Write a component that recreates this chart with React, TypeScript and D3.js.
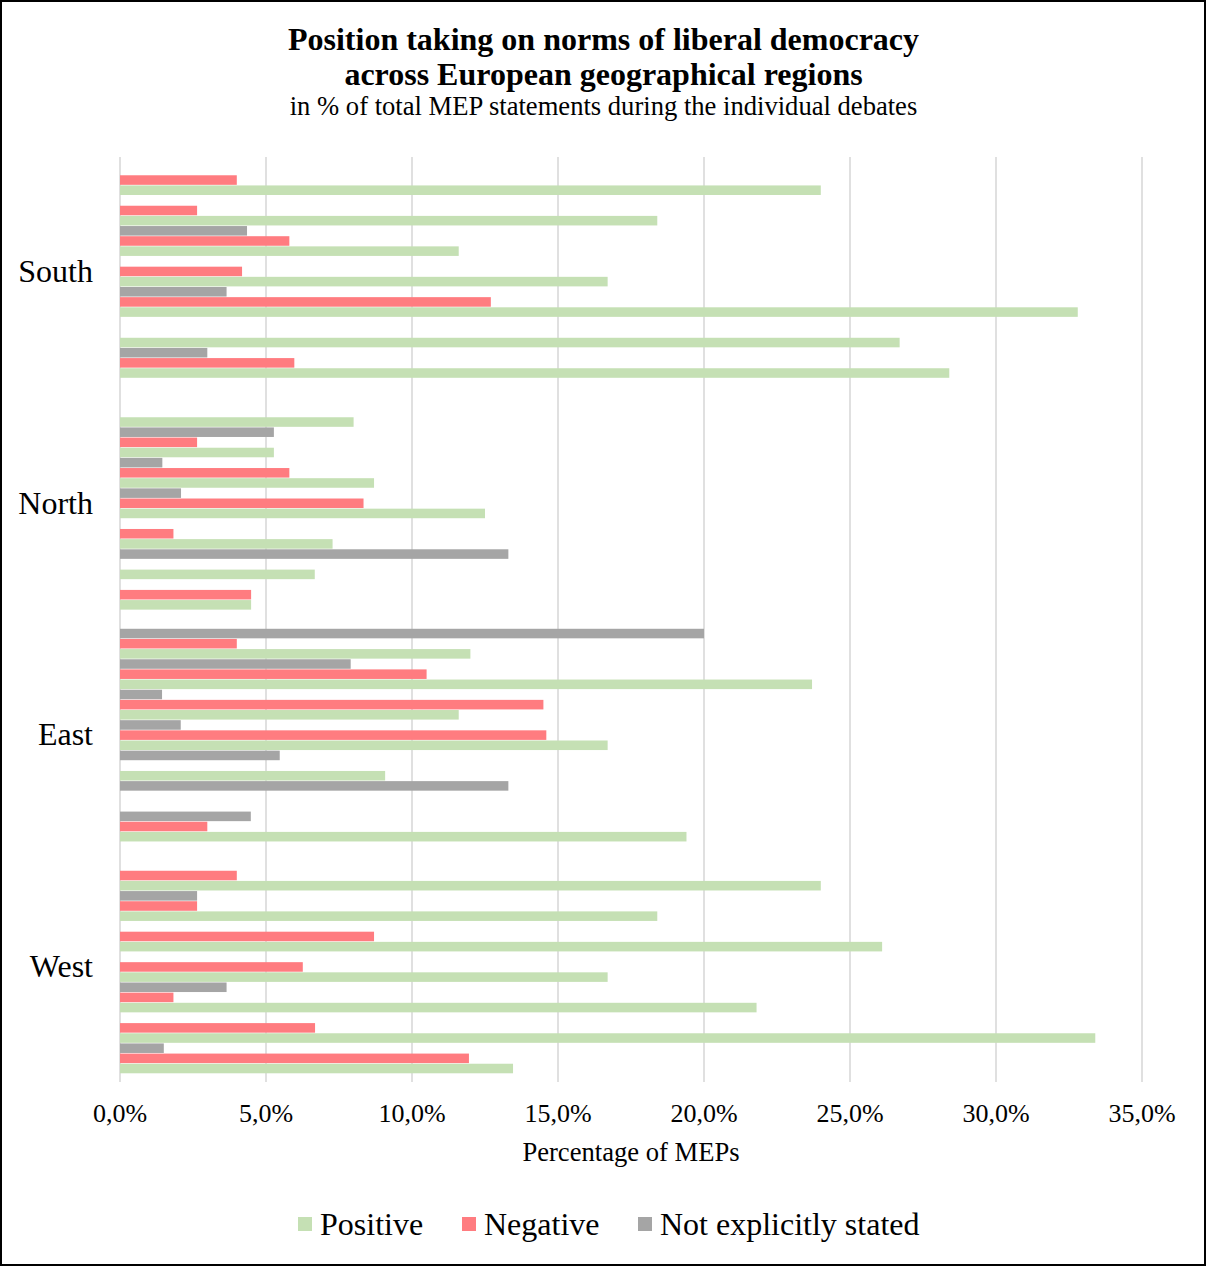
import React from "react";
import * as d3 from "d3";

// regions top to bottom, each with 7 debates
const regions = ["South", "North", "East", "West"];
const seriesNames = ["Positive", "Negative", "Not explicitly stated"];
const seriesColors = ["#C5E0B4", "#FF7C80", "#A5A5A5"];
const xTicks = [0, 5, 10, 15, 20, 25, 30, 35];

// values in % (debates 1..7, top to bottom)
const southPositive = [24.0, 18.4, 11.6, 16.7, 32.8, 26.7, 28.4];
const southNegative = [4.0, 2.64, 5.8, 4.18, 12.7, 0, 5.97];
const southNotStated = [0, 0, 4.35, 0, 3.65, 0, 2.99];

const northPositive = [8.0, 5.27, 8.7, 12.5, 7.28, 6.67, 4.49];
const northNegative = [0, 2.64, 5.8, 8.34, 1.83, 0, 4.49];
const northNotStated = [0, 5.27, 1.45, 2.09, 0, 13.3, 0];

const eastPositive = [12.0, 23.7, 11.6, 16.7, 9.08, 0, 19.4];
const eastNegative = [4.0, 10.5, 14.5, 14.6, 0, 0, 2.99];
const eastNotStated = [20.0, 7.9, 1.44, 2.08, 5.47, 13.3, 4.48];

const westPositive = [24.0, 18.4, 26.1, 16.7, 21.8, 33.4, 13.46];
const westNegative = [4.0, 2.64, 8.7, 6.26, 1.83, 6.68, 11.95];
const westNotStated = [0, 2.64, 0, 0, 3.65, 0, 1.5];

const table = {
  South: [southPositive, southNegative, southNotStated],
  North: [northPositive, northNegative, northNotStated],
  East: [eastPositive, eastNegative, eastNotStated],
  West: [westPositive, westNegative, westNotStated],
};

const W = 1207, H = 1266;
const left = 120, right = 1142, top = 157, bottom = 1082;
const FONT = "'Liberation Serif', 'Times New Roman', serif";

const fmt = d3.formatLocale({ decimal: ",", thousands: ".", grouping: [3], currency: ["", "€"] }).format(".1f");

export default function App() {
  const x = d3.scaleLinear().domain([0, 35]).range([left, right]);
  const y0 = d3.scaleBand<string>().domain(regions).range([top, bottom]).paddingInner(0.08).paddingOuter(0.035);

  // slot order inside a debate, top to bottom: not stated, negative, positive
  const slotOrder = [2, 1, 0];
  const slotKeys: string[] = [];
  for (let d = 0; d < 7; d++) slotOrder.forEach((s) => slotKeys.push(d + "-" + s));
  const y1 = d3.scaleBand<string>().domain(slotKeys).range([0, y0.bandwidth()]);

  const bars: { key: string; x: number; y: number; w: number; h: number; fill: string }[] = [];
  regions.forEach((r) => {
    const rows = (table as any)[r] as number[][];
    for (let d = 0; d < 7; d++) {
      slotOrder.forEach((s) => {
        const v = rows[s][d];
        if (v <= 0) return;
        bars.push({
          key: r + d + s,
          x: x(0),
          y: (y0(r) as number) + (y1(d + "-" + s) as number),
          w: x(v) - x(0),
          h: y1.bandwidth() - 0.6,
          fill: seriesColors[s],
        });
      });
    }
  });

  const legendX = [298, 462, 638];

  return (
    <div>
      <style>{"body{margin:0}"}</style>
      <svg width={W} height={H} style={{ display: "block", fontFamily: FONT }}>
        <rect x={0} y={0} width={W} height={H} fill="#fff" />
        <rect x={1} y={1} width={W - 3} height={H - 2} fill="none" stroke="#000" strokeWidth={2} />

        <text x={W / 2} y={50} textAnchor="middle" fontSize={32} fontWeight="bold">
          Position taking on norms of liberal democracy
        </text>
        <text x={W / 2} y={85} textAnchor="middle" fontSize={32} fontWeight="bold">
          across European geographical regions
        </text>
        <text x={W / 2} y={115} textAnchor="middle" fontSize={26.6}>
          in % of total MEP statements during the individual debates
        </text>

        {xTicks.map((t) => (
          <line key={"g" + t} x1={x(t)} x2={x(t)} y1={top} y2={1082} stroke="#D9D9D9" strokeWidth={1.6} />
        ))}

        {bars.map((b) => (
          <rect key={b.key} x={b.x} y={b.y} width={b.w} height={b.h} fill={b.fill} />
        ))}

        {xTicks.map((t) => (
          <text key={"t" + t} x={x(t)} y={1122} textAnchor="middle" fontSize={26}>
            {fmt(t) + "%"}
          </text>
        ))}
        <text x={(left + right) / 2} y={1161} textAnchor="middle" fontSize={26.6}>
          Percentage of MEPs
        </text>

        {regions.map((r) => (
          <text key={r} x={93} y={(y0(r) as number) + y0.bandwidth() / 2 + 10} textAnchor="end" fontSize={32}>
            {r}
          </text>
        ))}

        {seriesNames.map((s, i) => (
          <g key={s} transform={`translate(${legendX[i]},1224)`}>
            <rect x={0} y={-7} width={14} height={14} fill={seriesColors[i]} />
            <text x={22} y={11} fontSize={32}>{s}</text>
          </g>
        ))}
      </svg>
    </div>
  );
}
